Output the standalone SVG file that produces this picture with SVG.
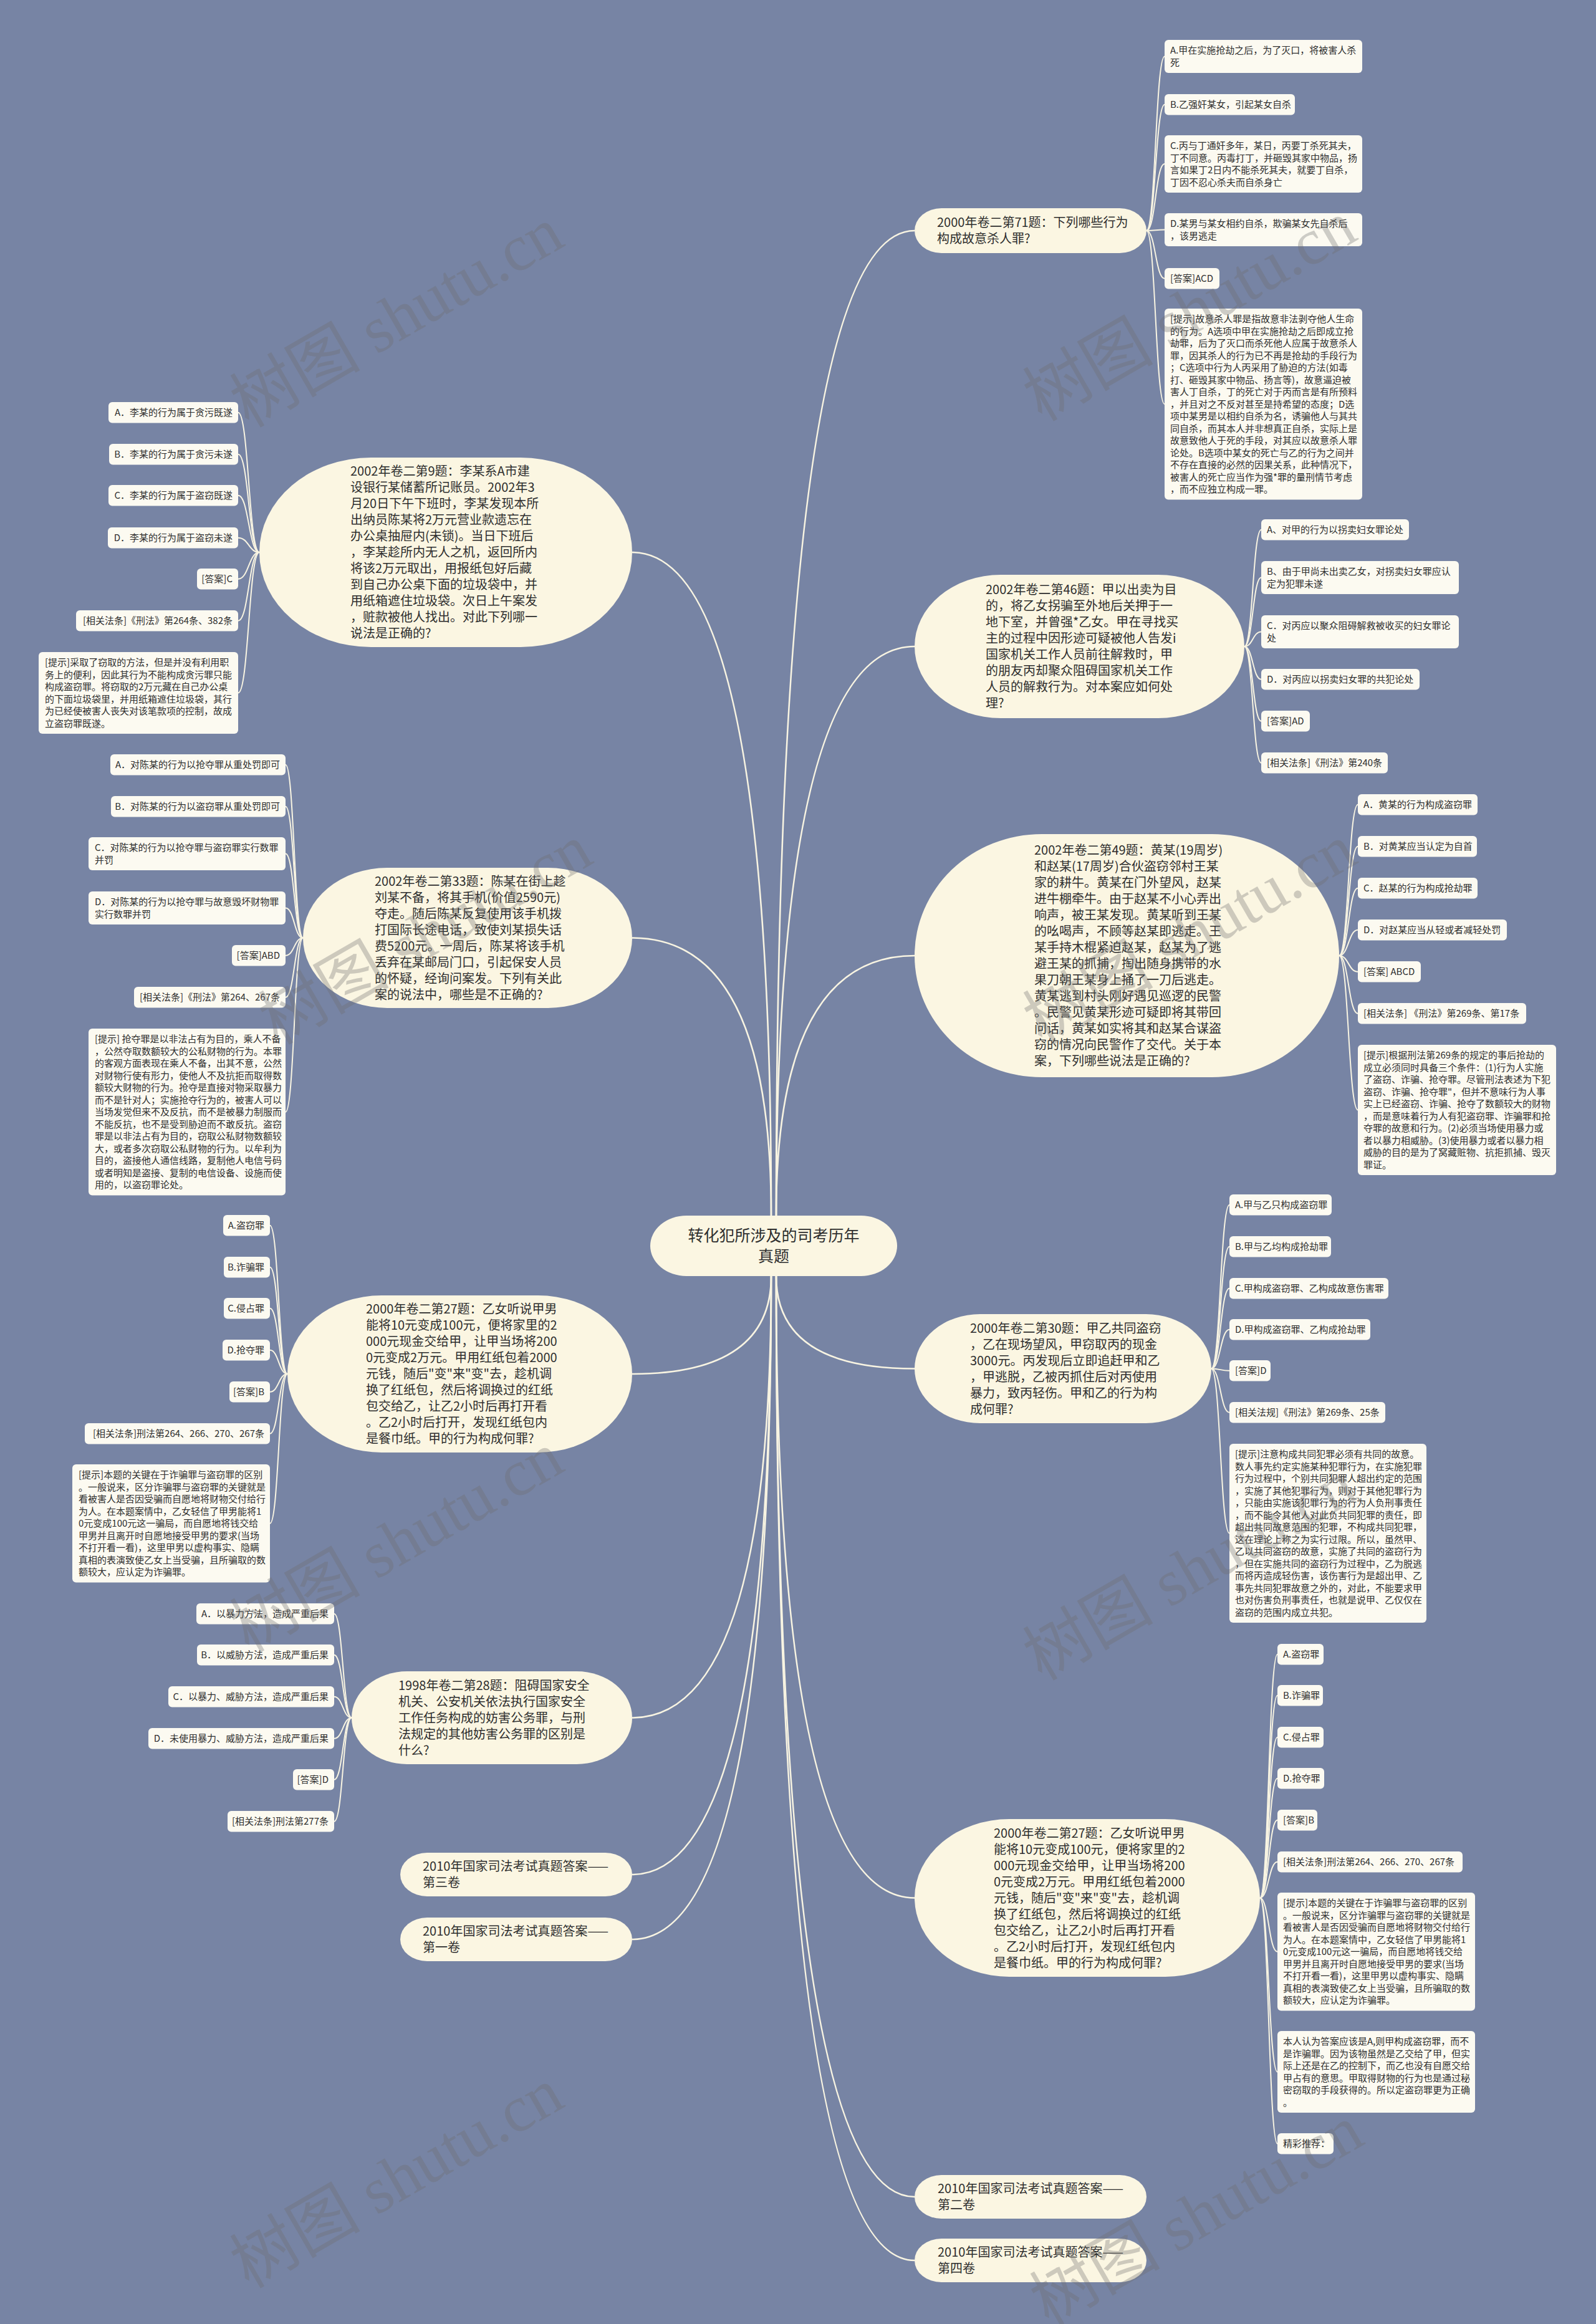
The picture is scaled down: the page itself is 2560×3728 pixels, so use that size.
<svg xmlns="http://www.w3.org/2000/svg" width="2560" height="3728" viewBox="0 0 2560 3728">
<style>
.bg{fill:#7784a4}
.n{fill:#fbf6e2}
.l{fill:#fcfaf1}
.c{fill:none;stroke:#f8f4e2;stroke-width:2.6}
.cl{fill:none;stroke:#f8f4e2;stroke-width:2}
text{font-family:"Noto Sans CJK SC","Noto Sans",sans-serif;fill:#2e2e2e}
.m{font-size:20px}
.s{font-size:15px}
.e{text-anchor:end}
.ct{font-size:25px;text-anchor:middle}
.wm{font-family:"Liberation Serif","Noto Sans CJK SC",serif;font-size:105px;fill:#6e6e6e;opacity:0.32;text-anchor:middle}
</style>
<rect class="bg" x="0" y="0" width="2560" height="3728"/>

<g id="connectors">
<path class="c" d="M1245,1950 Q1245,370 1467,370"/>
<path class="c" d="M1245,1950 Q1245,1037 1467,1037"/>
<path class="c" d="M1245,1950 Q1245,1533 1467,1533"/>
<path class="c" d="M1237,1950 Q1237,886 1014,886"/>
<path class="c" d="M1237,1950 Q1237,1504.5 1014,1504.5"/>
<path class="c" d="M1245,2047 Q1245,2195.5 1467,2195.5"/>
<path class="c" d="M1245,2047 Q1245,3044.5 1467,3044.5"/>
<path class="c" d="M1245,2047 Q1245,3524 1467,3524"/>
<path class="c" d="M1245,2047 Q1245,3626 1467,3626"/>
<path class="c" d="M1237,2047 Q1237,2204 1014,2204"/>
<path class="c" d="M1237,2047 Q1237,2755.5 1014,2755.5"/>
<path class="c" d="M1237,2047 Q1237,3007 1014,3007"/>
<path class="c" d="M1237,2047 Q1237,3111 1014,3111"/>
<!-- 71 -->
<path class="cl" d="M1839,370 C1853.5,370 1853.5,90.5 1868,90.5"/>
<path class="cl" d="M1839,370 C1853.5,370 1853.5,167.75 1868,167.75"/>
<path class="cl" d="M1839,370 C1853.5,370 1853.5,263 1868,263"/>
<path class="cl" d="M1839,370 C1853.5,370 1853.5,368.5 1868,368.5"/>
<path class="cl" d="M1839,370 C1853.5,370 1853.5,446.75 1868,446.75"/>
<path class="cl" d="M1839,370 C1853.5,370 1853.5,648.25 1868,648.25"/>
<!-- 46 -->
<path class="cl" d="M1996,1037 C2009.5,1037 2009.5,849.75 2023,849.75"/>
<path class="cl" d="M1996,1037 C2009.5,1037 2009.5,926.5 2023,926.5"/>
<path class="cl" d="M1996,1037 C2009.5,1037 2009.5,1013.5 2023,1013.5"/>
<path class="cl" d="M1996,1037 C2009.5,1037 2009.5,1089.75 2023,1089.75"/>
<path class="cl" d="M1996,1037 C2009.5,1037 2009.5,1156.75 2023,1156.75"/>
<path class="cl" d="M1996,1037 C2009.5,1037 2009.5,1223.75 2023,1223.75"/>
<!-- 49 -->
<path class="cl" d="M2148,1533 C2163,1533 2163,1290.75 2178,1290.75"/>
<path class="cl" d="M2148,1533 C2163,1533 2163,1357.75 2178,1357.75"/>
<path class="cl" d="M2148,1533 C2163,1533 2163,1424.75 2178,1424.75"/>
<path class="cl" d="M2148,1533 C2163,1533 2163,1491.75 2178,1491.75"/>
<path class="cl" d="M2148,1533 C2163,1533 2163,1558.75 2178,1558.75"/>
<path class="cl" d="M2148,1533 C2163,1533 2163,1625.75 2178,1625.75"/>
<path class="cl" d="M2148,1533 C2163,1533 2163,1780.5 2178,1780.5"/>
<!-- 30 -->
<path class="cl" d="M1943,2195.5 C1957.5,2195.5 1957.5,1932.75 1972,1932.75"/>
<path class="cl" d="M1943,2195.5 C1957.5,2195.5 1957.5,1999.75 1972,1999.75"/>
<path class="cl" d="M1943,2195.5 C1957.5,2195.5 1957.5,2066.75 1972,2066.75"/>
<path class="cl" d="M1943,2195.5 C1957.5,2195.5 1957.5,2132.75 1972,2132.75"/>
<path class="cl" d="M1943,2195.5 C1957.5,2195.5 1957.5,2198.75 1972,2198.75"/>
<path class="cl" d="M1943,2195.5 C1957.5,2195.5 1957.5,2265.75 1972,2265.75"/>
<path class="cl" d="M1943,2195.5 C1957.5,2195.5 1957.5,2459.5 1972,2459.5"/>
<!-- 27R -->
<path class="cl" d="M2021,3044.5 C2035,3044.5 2035,2653.75 2049,2653.75"/>
<path class="cl" d="M2021,3044.5 C2035,3044.5 2035,2719.75 2049,2719.75"/>
<path class="cl" d="M2021,3044.5 C2035,3044.5 2035,2786.75 2049,2786.75"/>
<path class="cl" d="M2021,3044.5 C2035,3044.5 2035,2852.75 2049,2852.75"/>
<path class="cl" d="M2021,3044.5 C2035,3044.5 2035,2919.75 2049,2919.75"/>
<path class="cl" d="M2021,3044.5 C2035,3044.5 2035,2986.75 2049,2986.75"/>
<path class="cl" d="M2021,3044.5 C2035,3044.5 2035,3130.75 2049,3130.75"/>
<path class="cl" d="M2021,3044.5 C2035,3044.5 2035,3323.5 2049,3323.5"/>
<path class="cl" d="M2021,3044.5 C2035,3044.5 2035,3438.75 2049,3438.75"/>
<!-- 9 -->
<path class="cl" d="M416,886 C399,886 399,661.75 382,661.75"/>
<path class="cl" d="M416,886 C399,886 399,728.75 382,728.75"/>
<path class="cl" d="M416,886 C399,886 399,794.75 382,794.75"/>
<path class="cl" d="M416,886 C399,886 399,862.75 382,862.75"/>
<path class="cl" d="M416,886 C399,886 399,928.75 382,928.75"/>
<path class="cl" d="M416,886 C399,886 399,995.75 382,995.75"/>
<path class="cl" d="M416,886 C399,886 399,1111.5 382,1111.5"/>
<!-- 33 -->
<path class="cl" d="M486,1504.5 C472,1504.5 472,1226.75 458,1226.75"/>
<path class="cl" d="M486,1504.5 C472,1504.5 472,1293.75 458,1293.75"/>
<path class="cl" d="M486,1504.5 C472,1504.5 472,1369.5 458,1369.5"/>
<path class="cl" d="M486,1504.5 C472,1504.5 472,1456.5 458,1456.5"/>
<path class="cl" d="M486,1504.5 C472,1504.5 472,1532.75 458,1532.75"/>
<path class="cl" d="M486,1504.5 C472,1504.5 472,1599.75 458,1599.75"/>
<path class="cl" d="M486,1504.5 C472,1504.5 472,1783.75 458,1783.75"/>
<!-- 27L -->
<path class="cl" d="M461,2204 C447,2204 447,1965.75 433,1965.75"/>
<path class="cl" d="M461,2204 C447,2204 447,2032.75 433,2032.75"/>
<path class="cl" d="M461,2204 C447,2204 447,2098.75 433,2098.75"/>
<path class="cl" d="M461,2204 C447,2204 447,2165.75 433,2165.75"/>
<path class="cl" d="M461,2204 C447,2204 447,2232.75 433,2232.75"/>
<path class="cl" d="M461,2204 C447,2204 447,2299.75 433,2299.75"/>
<path class="cl" d="M461,2204 C447,2204 447,2443.75 433,2443.75"/>
<!-- 1998 -->
<path class="cl" d="M564,2755.5 C550,2755.5 550,2588.75 536,2588.75"/>
<path class="cl" d="M564,2755.5 C550,2755.5 550,2654.75 536,2654.75"/>
<path class="cl" d="M564,2755.5 C550,2755.5 550,2721.75 536,2721.75"/>
<path class="cl" d="M564,2755.5 C550,2755.5 550,2788.75 536,2788.75"/>
<path class="cl" d="M564,2755.5 C550,2755.5 550,2854.75 536,2854.75"/>
<path class="cl" d="M564,2755.5 C550,2755.5 550,2921.75 536,2921.75"/>
</g>

<g id="center">
<rect class="n" x="1043" y="1950" width="396" height="97" rx="58" ry="48.5"/>
<text class="ct" x="1241" y="1991">转化犯所涉及的司考历年</text>
<text class="ct" x="1241" y="2024">真题</text>
</g>

<!-- right main nodes -->
<g id="n71">
<rect class="n" x="1467" y="334" width="372" height="72" rx="43" ry="36"/>
<text class="m"><tspan x="1503" y="364">2000年卷二第71题：下列哪些行为</tspan><tspan x="1503" y="390">构成故意杀人罪?</tspan></text>
</g>
<g id="n46">
<rect class="n" x="1467" y="922" width="529" height="230" rx="138" ry="115"/>
<text class="m"><tspan x="1581" y="953">2002年卷二第46题：甲以出卖为目</tspan><tspan x="1581" y="979">的，将乙女拐骗至外地后关押于一</tspan><tspan x="1581" y="1005">地下室，并曾强*乙女。甲在寻找买</tspan><tspan x="1581" y="1031">主的过程中因形迹可疑被他人告发i</tspan><tspan x="1581" y="1057">国家机关工作人员前往解救时，甲</tspan><tspan x="1581" y="1083">的朋友丙却聚众阻碍国家机关工作</tspan><tspan x="1581" y="1109">人员的解救行为。对本案应如何处</tspan><tspan x="1581" y="1135">理?</tspan></text>
</g>
<g id="n49">
<rect class="n" x="1467" y="1338" width="681" height="390" rx="204" ry="195"/>
<text class="m"><tspan x="1659" y="1371">2002年卷二第49题：黄某(19周岁)</tspan><tspan x="1659" y="1397">和赵某(17周岁)合伙盗窃邻村王某</tspan><tspan x="1659" y="1423">家的耕牛。黄某在门外望风，赵某</tspan><tspan x="1659" y="1449">进牛棚牵牛。由于赵某不小心弄出</tspan><tspan x="1659" y="1475">响声，被王某发现。黄某听到王某</tspan><tspan x="1659" y="1501">的吆喝声，不顾等赵某即逃走。王</tspan><tspan x="1659" y="1527">某手持木棍紧迫赵某，赵某为了逃</tspan><tspan x="1659" y="1553">避王某的抓捕，掏出随身携带的水</tspan><tspan x="1659" y="1579">果刀朝王某身上捅了一刀后逃走。</tspan><tspan x="1659" y="1605">黄某逃到村头刚好遇见巡逻的民警</tspan><tspan x="1659" y="1631">。民警见黄某形迹可疑即将其带回</tspan><tspan x="1659" y="1657">问话，黄某如实将其和赵某合谋盗</tspan><tspan x="1659" y="1683">窃的情况向民警作了交代。关于本</tspan><tspan x="1659" y="1709">案，下列哪些说法是正确的?</tspan></text>
</g>
<g id="n30">
<rect class="n" x="1467" y="2108" width="476" height="175" rx="105" ry="87.5"/>
<text class="m"><tspan x="1556" y="2137.5">2000年卷二第30题：甲乙共同盗窃</tspan><tspan x="1556" y="2163.5">，乙在现场望风，甲窃取丙的现金</tspan><tspan x="1556" y="2189.5">3000元。丙发现后立即追赶甲和乙</tspan><tspan x="1556" y="2215.5">，甲逃脱，乙被丙抓住后对丙使用</tspan><tspan x="1556" y="2241.5">暴力，致丙轻伤。甲和乙的行为构</tspan><tspan x="1556" y="2267.5">成何罪?</tspan></text>
</g>
<g id="n27r">
<rect class="n" x="1467" y="2918" width="554" height="253" rx="152" ry="126.5"/>
<text class="m"><tspan x="1594" y="2947.5">2000年卷二第27题：乙女听说甲男</tspan><tspan x="1594" y="2973.5">能将10元变成100元，便将家里的2</tspan><tspan x="1594" y="2999.5">000元现金交给甲，让甲当场将200</tspan><tspan x="1594" y="3025.5">0元变成2万元。甲用红纸包着2000</tspan><tspan x="1594" y="3051.5">元钱，随后"变"来"变"去，趁机调</tspan><tspan x="1594" y="3077.5">换了红纸包，然后将调换过的红纸</tspan><tspan x="1594" y="3103.5">包交给乙，让乙2小时后再打开看</tspan><tspan x="1594" y="3129.5">。乙2小时后打开，发现红纸包内</tspan><tspan x="1594" y="3155.5">是餐巾纸。甲的行为构成何罪?</tspan></text>
</g>
<g id="n2010b">
<rect class="n" x="1467" y="3489" width="372" height="70" rx="43" ry="35"/>
<text class="m"><tspan x="1504" y="3518">2010年国家司法考试真题答案——</tspan><tspan x="1504" y="3544">第二卷</tspan></text>
</g>
<g id="n2010d">
<rect class="n" x="1467" y="3591" width="372" height="70" rx="43" ry="35"/>
<text class="m"><tspan x="1504" y="3620">2010年国家司法考试真题答案——</tspan><tspan x="1504" y="3646">第四卷</tspan></text>
</g>

<!-- left main nodes -->
<g id="n9">
<rect class="n" x="416" y="734" width="598" height="304" rx="179" ry="152"/>
<text class="m"><tspan x="562" y="763">2002年卷二第9题：李某系A市建</tspan><tspan x="562" y="789">设银行某储蓄所记账员。2002年3</tspan><tspan x="562" y="815">月20日下午下班时，李某发现本所</tspan><tspan x="562" y="841">出纳员陈某将2万元营业款遗忘在</tspan><tspan x="562" y="867">办公桌抽屉内(未锁)。当日下班后</tspan><tspan x="562" y="893">，李某趁所内无人之机，返回所内</tspan><tspan x="562" y="919">将该2万元取出，用报纸包好后藏</tspan><tspan x="562" y="945">到自己办公桌下面的垃圾袋中，并</tspan><tspan x="562" y="971">用纸箱遮住垃圾袋。次日上午案发</tspan><tspan x="562" y="997">，赃款被他人找出。对此下列哪一</tspan><tspan x="562" y="1023">说法是正确的?</tspan></text>
</g>
<g id="n33">
<rect class="n" x="486" y="1392" width="528" height="225" rx="135" ry="112.5"/>
<text class="m"><tspan x="601" y="1420.5">2002年卷二第33题：陈某在街上趁</tspan><tspan x="601" y="1446.5">刘某不备，将其手机(价值2590元)</tspan><tspan x="601" y="1472.5">夺走。随后陈某反复使用该手机拨</tspan><tspan x="601" y="1498.5">打国际长途电话，致使刘某损失话</tspan><tspan x="601" y="1524.5">费5200元。一周后，陈某将该手机</tspan><tspan x="601" y="1550.5">丢弃在某邮局门口，引起保安人员</tspan><tspan x="601" y="1576.5">的怀疑，经询问案发。下列有关此</tspan><tspan x="601" y="1602.5">案的说法中，哪些是不正确的?</tspan></text>
</g>
<g id="n27l">
<rect class="n" x="461" y="2078" width="553" height="252" rx="151" ry="126"/>
<text class="m"><tspan x="587" y="2107">2000年卷二第27题：乙女听说甲男</tspan><tspan x="587" y="2133">能将10元变成100元，便将家里的2</tspan><tspan x="587" y="2159">000元现金交给甲，让甲当场将200</tspan><tspan x="587" y="2185">0元变成2万元。甲用红纸包着2000</tspan><tspan x="587" y="2211">元钱，随后"变"来"变"去，趁机调</tspan><tspan x="587" y="2237">换了红纸包，然后将调换过的红纸</tspan><tspan x="587" y="2263">包交给乙，让乙2小时后再打开看</tspan><tspan x="587" y="2289">。乙2小时后打开，发现红纸包内</tspan><tspan x="587" y="2315">是餐巾纸。甲的行为构成何罪?</tspan></text>
</g>
<g id="n1998">
<rect class="n" x="564" y="2681" width="450" height="149" rx="89" ry="74.5"/>
<text class="m"><tspan x="639" y="2710.5">1998年卷二第28题：阻碍国家安全</tspan><tspan x="639" y="2736.5">机关、公安机关依法执行国家安全</tspan><tspan x="639" y="2762.5">工作任务构成的妨害公务罪，与刑</tspan><tspan x="639" y="2788.5">法规定的其他妨害公务罪的区别是</tspan><tspan x="639" y="2814.5">什么?</tspan></text>
</g>
<g id="n2010c">
<rect class="n" x="642" y="2972" width="372" height="70" rx="43" ry="35"/>
<text class="m"><tspan x="678" y="3001">2010年国家司法考试真题答案——</tspan><tspan x="678" y="3027">第三卷</tspan></text>
</g>
<g id="n2010a">
<rect class="n" x="642" y="3076" width="372" height="70" rx="43" ry="35"/>
<text class="m"><tspan x="678" y="3105">2010年国家司法考试真题答案——</tspan><tspan x="678" y="3131">第一卷</tspan></text>
</g>

<!-- leaves of 71 -->
<g id="l71a"><rect class="l" x="1868" y="64" width="317" height="53" rx="6"/><text class="s"><tspan x="1877" y="86">A.甲在实施抢劫之后，为了灭口，将被害人杀</tspan><tspan x="1877" y="105.5">死</tspan></text></g>
<g id="l71b"><rect class="l" x="1868" y="151" width="209" height="33.5" rx="6"/><text class="s" x="1877" y="173">B.乙强奸某女，引起某女自杀</text></g>
<g id="l71c"><rect class="l" x="1868" y="217" width="317" height="92" rx="6"/><text class="s"><tspan x="1877" y="239">C.丙与丁通奸多年，某日，丙要丁杀死其夫，</tspan><tspan x="1877" y="258.5">丁不同意。丙毒打丁，并砸毁其家中物品，扬</tspan><tspan x="1877" y="278">言如果丁2日内不能杀死其夫，就要丁自杀，</tspan><tspan x="1877" y="297.5">丁因不忍心杀夫而自杀身亡</tspan></text></g>
<g id="l71d"><rect class="l" x="1868" y="342" width="317" height="53" rx="6"/><text class="s"><tspan x="1877" y="364">D.某男与某女相约自杀，欺骗某女先自杀后</tspan><tspan x="1877" y="383.5">，该男逃走</tspan></text></g>
<g id="l71ans"><rect class="l" x="1868" y="430" width="88" height="33.5" rx="6"/><text class="s" x="1877" y="452">[答案]ACD</text></g>
<g id="l71tip"><rect class="l" x="1868" y="495" width="317" height="306.5" rx="6"/><text class="s"><tspan x="1877" y="517">[提示]故意杀人罪是指故意非法剥夺他人生命</tspan><tspan x="1877" y="536.5">的行为。A选项中甲在实施抢劫之后即成立抢</tspan><tspan x="1877" y="556">劫罪，后为了灭口而杀死他人应属于故意杀人</tspan><tspan x="1877" y="575.5">罪，因其杀人的行为已不再是抢劫的手段行为</tspan><tspan x="1877" y="595">；C选项中行为人丙采用了胁迫的方法(如毒</tspan><tspan x="1877" y="614.5">打、砸毁其家中物品、扬言等)，故意逼迫被</tspan><tspan x="1877" y="634">害人丁自杀，丁的死亡对于丙而言是有所预料</tspan><tspan x="1877" y="653.5">，并且对之不反对甚至是持希望的态度；D选</tspan><tspan x="1877" y="673">项中某男是以相约自杀为名，诱骗他人与其共</tspan><tspan x="1877" y="692.5">同自杀，而其本人并非想真正自杀，实际上是</tspan><tspan x="1877" y="712">故意致他人于死的手段，对其应以故意杀人罪</tspan><tspan x="1877" y="731.5">论处。B选项中某女的死亡与乙的行为之间并</tspan><tspan x="1877" y="751">不存在直接的必然的因果关系，此种情况下，</tspan><tspan x="1877" y="770.5">被害人的死亡应当作为强*罪的量刑情节考虑</tspan><tspan x="1877" y="790">，而不应独立构成一罪。</tspan></text></g>

<!-- leaves of 46 -->
<g id="l46a"><rect class="l" x="2023" y="833" width="237" height="33.5" rx="6"/><text class="s" x="2032" y="855">A、对甲的行为以拐卖妇女罪论处</text></g>
<g id="l46b"><rect class="l" x="2023" y="900" width="317" height="53" rx="6"/><text class="s"><tspan x="2032" y="922">B、由于甲尚未出卖乙女，对拐卖妇女罪应认</tspan><tspan x="2032" y="941.5">定为犯罪未遂</tspan></text></g>
<g id="l46c"><rect class="l" x="2023" y="987" width="317" height="53" rx="6"/><text class="s"><tspan x="2032" y="1009">C．对丙应以聚众阻碍解救被收买的妇女罪论</tspan><tspan x="2032" y="1028.5">处</tspan></text></g>
<g id="l46d"><rect class="l" x="2023" y="1073" width="254" height="33.5" rx="6"/><text class="s" x="2032" y="1095">D．对丙应以拐卖妇女罪的共犯论处</text></g>
<g id="l46ans"><rect class="l" x="2023" y="1140" width="78" height="33.5" rx="6"/><text class="s" x="2032" y="1162">[答案]AD</text></g>
<g id="l46rel"><rect class="l" x="2023" y="1207" width="203" height="33.5" rx="6"/><text class="s" x="2032" y="1229">[相关法条]《刑法》第240条</text></g>

<!-- leaves of 49 -->
<g id="l49a"><rect class="l" x="2178" y="1274" width="192" height="33.5" rx="6"/><text class="s" x="2187" y="1296">A．黄某的行为构成盗窃罪</text></g>
<g id="l49b"><rect class="l" x="2178" y="1341" width="191" height="33.5" rx="6"/><text class="s" x="2187" y="1363">B．对黄某应当认定为自首</text></g>
<g id="l49c"><rect class="l" x="2178" y="1408" width="192" height="33.5" rx="6"/><text class="s" x="2187" y="1430">C．赵某的行为构成抢劫罪</text></g>
<g id="l49d"><rect class="l" x="2178" y="1475" width="239" height="33.5" rx="6"/><text class="s" x="2187" y="1497">D．对赵某应当从轻或者减轻处罚</text></g>
<g id="l49ans"><rect class="l" x="2178" y="1542" width="101" height="33.5" rx="6"/><text class="s" x="2187" y="1564">[答案] ABCD</text></g>
<g id="l49rel"><rect class="l" x="2178" y="1609" width="270" height="33.5" rx="6"/><text class="s" x="2187" y="1631">[相关法条] 《刑法》第269条、第17条</text></g>
<g id="l49tip"><rect class="l" x="2178" y="1676" width="318" height="209" rx="6"/><text class="s"><tspan x="2187" y="1698">[提示]根据刑法第269条的规定的事后抢劫的</tspan><tspan x="2187" y="1717.5">成立必须同时具备三个条件：(1)行为人实施</tspan><tspan x="2187" y="1737">了盗窃、诈骗、抢夺罪。尽管刑法表述为下犯</tspan><tspan x="2187" y="1756.5">盗窃、诈骗、抢夺罪"，但并不意味行为人事</tspan><tspan x="2187" y="1776">实上已经盗窃、诈骗、抢夺了数额较大的财物</tspan><tspan x="2187" y="1795.5">，而是意味着行为人有犯盗窃罪、诈骗罪和抢</tspan><tspan x="2187" y="1815">夺罪的故意和行为。(2)必须当场使用暴力或</tspan><tspan x="2187" y="1834.5">者以暴力相威胁。(3)使用暴力或者以暴力相</tspan><tspan x="2187" y="1854">威胁的目的是为了窝藏赃物、抗拒抓捕、毁灭</tspan><tspan x="2187" y="1873.5">罪证。</tspan></text></g>

<!-- leaves of 30 -->
<g id="l30a"><rect class="l" x="1972" y="1916" width="164" height="33.5" rx="6"/><text class="s" x="1981" y="1938">A.甲与乙只构成盗窃罪</text></g>
<g id="l30b"><rect class="l" x="1972" y="1983" width="163" height="33.5" rx="6"/><text class="s" x="1981" y="2005">B.甲与乙均构成抢劫罪</text></g>
<g id="l30c"><rect class="l" x="1972" y="2050" width="255" height="33.5" rx="6"/><text class="s" x="1981" y="2072">C.甲构成盗窃罪、乙构成故意伤害罪</text></g>
<g id="l30d"><rect class="l" x="1972" y="2116" width="226" height="33.5" rx="6"/><text class="s" x="1981" y="2138">D.甲构成盗窃罪、乙构成抢劫罪</text></g>
<g id="l30ans"><rect class="l" x="1972" y="2182" width="66" height="33.5" rx="6"/><text class="s" x="1981" y="2204">[答案]D</text></g>
<g id="l30rel"><rect class="l" x="1972" y="2249" width="250" height="33.5" rx="6"/><text class="s" x="1981" y="2271">[相关法规]《刑法》第269条、25条</text></g>
<g id="l30tip"><rect class="l" x="1972" y="2316" width="316" height="287" rx="6"/><text class="s"><tspan x="1981" y="2338">[提示]注意构成共同犯罪必须有共同的故意。</tspan><tspan x="1981" y="2357.5">数人事先约定实施某种犯罪行为，在实施犯罪</tspan><tspan x="1981" y="2377">行为过程中，个别共同犯罪人超出约定的范围</tspan><tspan x="1981" y="2396.5">，实施了其他犯罪行为，则对于其他犯罪行为</tspan><tspan x="1981" y="2416">，只能由实施该犯罪行为的行为人负刑事责任</tspan><tspan x="1981" y="2435.5">，而不能令其他人对此负共同犯罪的责任，即</tspan><tspan x="1981" y="2455">超出共同故意范围的犯罪，不构成共同犯罪，</tspan><tspan x="1981" y="2474.5">这在理论上称之为实行过限。所以，虽然甲、</tspan><tspan x="1981" y="2494">乙以共同盗窃的故意，实施了共同的盗窃行为</tspan><tspan x="1981" y="2513.5">，但在实施共同的盗窃行为过程中，乙为脱逃</tspan><tspan x="1981" y="2533">而将丙造成轻伤害，该伤害行为是超出甲、乙</tspan><tspan x="1981" y="2552.5">事先共同犯罪故意之外的，对此，不能要求甲</tspan><tspan x="1981" y="2572">也对伤害负刑事责任，也就是说甲、乙仅仅在</tspan><tspan x="1981" y="2591.5">盗窃的范围内成立共犯。</tspan></text></g>

<!-- leaves of 27R -->
<g id="l27ra"><rect class="l" x="2049" y="2637" width="74" height="33.5" rx="6"/><text class="s" x="2058" y="2659">A.盗窃罪</text></g>
<g id="l27rb"><rect class="l" x="2049" y="2703" width="73" height="33.5" rx="6"/><text class="s" x="2058" y="2725">B.诈骗罪</text></g>
<g id="l27rc"><rect class="l" x="2049" y="2770" width="74" height="33.5" rx="6"/><text class="s" x="2058" y="2792">C.侵占罪</text></g>
<g id="l27rd"><rect class="l" x="2049" y="2836" width="75" height="33.5" rx="6"/><text class="s" x="2058" y="2858">D.抢夺罪</text></g>
<g id="l27rans"><rect class="l" x="2049" y="2903" width="64" height="33.5" rx="6"/><text class="s" x="2058" y="2925">[答案]B</text></g>
<g id="l27rrel"><rect class="l" x="2049" y="2970" width="297" height="33.5" rx="6"/><text class="s" x="2058" y="2992">[相关法条]刑法第264、266、270、267条</text></g>
<g id="l27rtip"><rect class="l" x="2049" y="3036" width="317" height="189.5" rx="6"/><text class="s"><tspan x="2058" y="3058">[提示]本题的关键在于诈骗罪与盗窃罪的区别</tspan><tspan x="2058" y="3077.5">。一般说来，区分诈骗罪与盗窃罪的关键就是</tspan><tspan x="2058" y="3097">看被害人是否因受骗而自愿地将财物交付给行</tspan><tspan x="2058" y="3116.5">为人。在本题案情中，乙女轻信了甲男能将1</tspan><tspan x="2058" y="3136">0元变成100元这一骗局，而自愿地将钱交给</tspan><tspan x="2058" y="3155.5">甲男并且离开时自愿地接受甲男的要求(当场</tspan><tspan x="2058" y="3175">不打开看一看)，这里甲男以虚构事实、隐瞒</tspan><tspan x="2058" y="3194.5">真相的表演致使乙女上当受骗，且所骗取的数</tspan><tspan x="2058" y="3214">额较大，应认定为诈骗罪。</tspan></text></g>
<g id="l27rown"><rect class="l" x="2049" y="3258" width="317" height="131" rx="6"/><text class="s"><tspan x="2058" y="3280">本人认为答案应该是A,则甲构成盗窃罪，而不</tspan><tspan x="2058" y="3299.5">是诈骗罪。因为该物虽然是乙交给了甲，但实</tspan><tspan x="2058" y="3319">际上还是在乙的控制下，而乙也没有自愿交给</tspan><tspan x="2058" y="3338.5">甲占有的意思。甲取得财物的行为也是通过秘</tspan><tspan x="2058" y="3358">密窃取的手段获得的。所以定盗窃罪更为正确</tspan><tspan x="2058" y="3377.5">。</tspan></text></g>
<g id="l27rrec"><rect class="l" x="2049" y="3422" width="90" height="33.5" rx="6"/><text class="s" x="2058" y="3444">精彩推荐：</text></g>

<!-- leaves of 9 -->
<g id="l9a"><rect class="l" x="174" y="645" width="208" height="33.5" rx="6"/><text class="s e" x="373" y="667">A．李某的行为属于贪污既遂</text></g>
<g id="l9b"><rect class="l" x="175" y="712" width="207" height="33.5" rx="6"/><text class="s e" x="373" y="734">B．李某的行为属于贪污未遂</text></g>
<g id="l9c"><rect class="l" x="174" y="778" width="208" height="33.5" rx="6"/><text class="s e" x="373" y="800">C．李某的行为属于盗窃既遂</text></g>
<g id="l9d"><rect class="l" x="173" y="846" width="209" height="33.5" rx="6"/><text class="s e" x="373" y="868">D．李某的行为属于盗窃未遂</text></g>
<g id="l9ans"><rect class="l" x="316" y="912" width="66" height="33.5" rx="6"/><text class="s e" x="373" y="934">[答案]C</text></g>
<g id="l9rel"><rect class="l" x="122" y="979" width="260" height="33.5" rx="6"/><text class="s e" x="373" y="1001">[相关法条]《刑法》第264条、382条</text></g>
<g id="l9tip"><rect class="l" x="62" y="1046" width="320" height="131" rx="6"/><text class="s"><tspan x="72" y="1068">[提示]采取了窃取的方法，但是并没有利用职</tspan><tspan x="72" y="1087.5">务上的便利，因此其行为不能构成贪污罪只能</tspan><tspan x="72" y="1107">构成盗窃罪。将窃取的2万元藏在自己办公桌</tspan><tspan x="72" y="1126.5">的下面垃圾袋里，并用纸箱遮住垃圾袋，其行</tspan><tspan x="72" y="1146">为已经使被害人丧失对该笔款项的控制，故成</tspan><tspan x="72" y="1165.5">立盗窃罪既遂。</tspan></text></g>

<!-- leaves of 33 -->
<g id="l33a"><rect class="l" x="177" y="1210" width="281" height="33.5" rx="6"/><text class="s e" x="449" y="1232">A．对陈某的行为以抢夺罪从重处罚即可</text></g>
<g id="l33b"><rect class="l" x="178" y="1277" width="280" height="33.5" rx="6"/><text class="s e" x="449" y="1299">B．对陈某的行为以盗窃罪从重处罚即可</text></g>
<g id="l33c"><rect class="l" x="142" y="1343" width="316" height="53" rx="6"/><text class="s"><tspan x="152" y="1365">C．对陈某的行为以抢夺罪与盗窃罪实行数罪</tspan><tspan x="152" y="1384.5">并罚</tspan></text></g>
<g id="l33d"><rect class="l" x="142" y="1430" width="316" height="53" rx="6"/><text class="s"><tspan x="152" y="1452">D．对陈某的行为以抢夺罪与故意毁坏财物罪</tspan><tspan x="152" y="1471.5">实行数罪并罚</tspan></text></g>
<g id="l33ans"><rect class="l" x="372" y="1516" width="86" height="33.5" rx="6"/><text class="s e" x="449" y="1538">[答案]ABD</text></g>
<g id="l33rel"><rect class="l" x="215" y="1583" width="243" height="33.5" rx="6"/><text class="s e" x="449" y="1605">[相关法条]《刑法》第264、267条</text></g>
<g id="l33tip"><rect class="l" x="142" y="1650" width="316" height="267.5" rx="6"/><text class="s"><tspan x="152" y="1672">[提示] 抢夺罪是以非法占有为目的，乘人不备</tspan><tspan x="152" y="1691.5">，公然夺取数额较大的公私财物的行为。本罪</tspan><tspan x="152" y="1711">的客观方面表现在乘人不备，出其不意，公然</tspan><tspan x="152" y="1730.5">对财物行使有形力，使他人不及抗拒而取得数</tspan><tspan x="152" y="1750">额较大财物的行为。抢夺是直接对物采取暴力</tspan><tspan x="152" y="1769.5">而不是针对人；实施抢夺行为的，被害人可以</tspan><tspan x="152" y="1789">当场发觉但来不及反抗，而不是被暴力制服而</tspan><tspan x="152" y="1808.5">不能反抗，也不是受到胁迫而不敢反抗。盗窃</tspan><tspan x="152" y="1828">罪是以非法占有为目的，窃取公私财物数额较</tspan><tspan x="152" y="1847.5">大，或者多次窃取公私财物的行为。以牟利为</tspan><tspan x="152" y="1867">目的，盗接他人通信线路，复制他人电信号码</tspan><tspan x="152" y="1886.5">或者明知是盗接、复制的电信设备、设施而使</tspan><tspan x="152" y="1906">用的，以盗窃罪论处。</tspan></text></g>

<!-- leaves of 27L -->
<g id="l27la"><rect class="l" x="358" y="1949" width="75" height="33.5" rx="6"/><text class="s e" x="424" y="1971">A.盗窃罪</text></g>
<g id="l27lb"><rect class="l" x="359" y="2016" width="74" height="33.5" rx="6"/><text class="s e" x="424" y="2038">B.诈骗罪</text></g>
<g id="l27lc"><rect class="l" x="359" y="2082" width="74" height="33.5" rx="6"/><text class="s e" x="424" y="2104">C.侵占罪</text></g>
<g id="l27ld"><rect class="l" x="357" y="2149" width="76" height="33.5" rx="6"/><text class="s e" x="424" y="2171">D.抢夺罪</text></g>
<g id="l27lans"><rect class="l" x="368" y="2216" width="65" height="33.5" rx="6"/><text class="s e" x="424" y="2238">[答案]B</text></g>
<g id="l27lrel"><rect class="l" x="136" y="2283" width="297" height="33.5" rx="6"/><text class="s e" x="424" y="2305">[相关法条]刑法第264、266、270、267条</text></g>
<g id="l27ltip"><rect class="l" x="116" y="2349" width="317" height="189.5" rx="6"/><text class="s"><tspan x="126" y="2371">[提示]本题的关键在于诈骗罪与盗窃罪的区别</tspan><tspan x="126" y="2390.5">。一般说来，区分诈骗罪与盗窃罪的关键就是</tspan><tspan x="126" y="2410">看被害人是否因受骗而自愿地将财物交付给行</tspan><tspan x="126" y="2429.5">为人。在本题案情中，乙女轻信了甲男能将1</tspan><tspan x="126" y="2449">0元变成100元这一骗局，而自愿地将钱交给</tspan><tspan x="126" y="2468.5">甲男并且离开时自愿地接受甲男的要求(当场</tspan><tspan x="126" y="2488">不打开看一看)，这里甲男以虚构事实、隐瞒</tspan><tspan x="126" y="2507.5">真相的表演致使乙女上当受骗，且所骗取的数</tspan><tspan x="126" y="2527">额较大，应认定为诈骗罪。</tspan></text></g>

<!-- leaves of 1998 -->
<g id="l98a"><rect class="l" x="315" y="2572" width="221" height="33.5" rx="6"/><text class="s e" x="527" y="2594">A．以暴力方法，造成严重后果</text></g>
<g id="l98b"><rect class="l" x="316" y="2638" width="220" height="33.5" rx="6"/><text class="s e" x="527" y="2660">B．以威胁方法，造成严重后果</text></g>
<g id="l98c"><rect class="l" x="270" y="2705" width="266" height="33.5" rx="6"/><text class="s e" x="527" y="2727">C．以暴力、威胁方法，造成严重后果</text></g>
<g id="l98d"><rect class="l" x="238" y="2772" width="298" height="33.5" rx="6"/><text class="s e" x="527" y="2794">D．未使用暴力、威胁方法，造成严重后果</text></g>
<g id="l98ans"><rect class="l" x="470" y="2838" width="66" height="33.5" rx="6"/><text class="s e" x="527" y="2860">[答案]D</text></g>
<g id="l98rel"><rect class="l" x="365" y="2905" width="171" height="33.5" rx="6"/><text class="s e" x="527" y="2927">[相关法条]刑法第277条</text></g>

<g id="watermarks">
<text class="wm" transform="translate(654,540) rotate(-30)">树图 shutu.cn</text>
<text class="wm" transform="translate(1926,530) rotate(-30)">树图 shutu.cn</text>
<text class="wm" transform="translate(700,1530) rotate(-30)">树图 shutu.cn</text>
<text class="wm" transform="translate(1926,1530) rotate(-30)">树图 shutu.cn</text>
<text class="wm" transform="translate(654,2505) rotate(-30)">树图 shutu.cn</text>
<text class="wm" transform="translate(1926,2550) rotate(-30)">树图 shutu.cn</text>
<text class="wm" transform="translate(654,3525) rotate(-30)">树图 shutu.cn</text>
<text class="wm" transform="translate(1937,3585) rotate(-30)">树图 shutu.cn</text>
</g>
</svg>
